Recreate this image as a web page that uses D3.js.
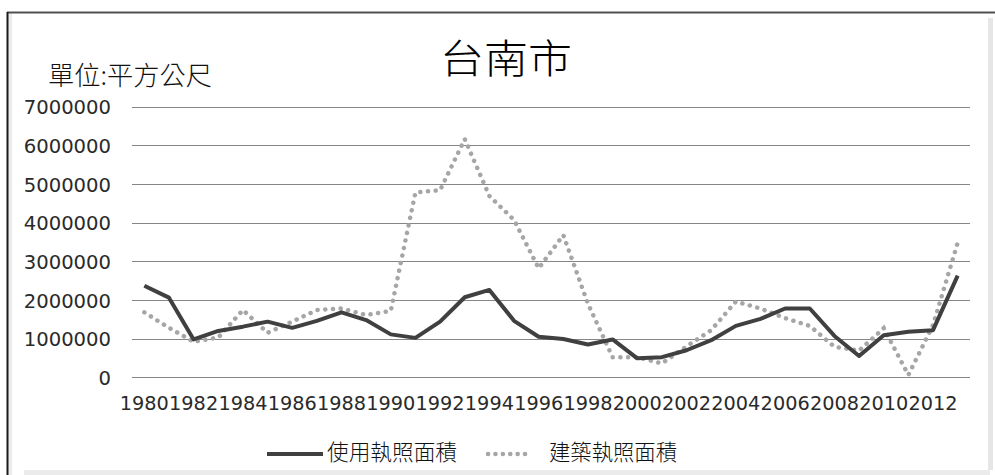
<!DOCTYPE html>
<html>
<head>
<meta charset="utf-8">
<script src="https://cdn.jsdelivr.net/npm/d3@7/dist/d3.min.js"></script>
<style>
  html, body { margin: 0; padding: 0; background: #fff; }
  svg { display: block; }
</style>
</head>
<body>
<script>
// 台南市 使用執照 / 建築執照 面積 (平方公尺), 1980–2013
const years = d3.range(1980, 2014);
const usePermit = [
  2370000, 2060000, 980000, 1200000, 1310000, 1440000, 1280000, 1460000, 1680000, 1480000,
  1110000, 1020000, 1440000, 2070000, 2260000, 1460000, 1050000, 990000, 850000, 980000,
  490000, 520000, 700000, 960000, 1330000, 1510000, 1780000, 1780000, 1070000, 550000,
  1090000, 1180000, 1220000, 2630000
];
const buildPermit = [
  1680000, 1280000, 920000, 1030000, 1740000, 1150000, 1440000, 1740000, 1780000, 1610000,
  1720000, 4780000, 4840000, 6160000, 4690000, 4070000, 2820000, 3680000, 1900000, 520000,
  520000, 360000, 800000, 1220000, 1960000, 1780000, 1530000, 1330000, 790000, 690000,
  1270000, 60000, 1350000, 3480000
];
const yTicks = [0, 1000000, 2000000, 3000000, 4000000, 5000000, 6000000, 7000000];
const xTickYears = years.filter(y => (y - 1980) % 2 === 0 && y <= 2012);
const seriesNames = ["使用執照面積", "建築執照面積"];
const titleText = "台南市";
const unitText = "單位:平方公尺";

const W = 995, H = 475;
const svg = d3.select("body").append("svg").attr("width", W).attr("height", H);

// chart frame
svg.append("rect").attr("x", 8).attr("y", 13).attr("width", W - 8).attr("height", H - 13).attr("fill", "#fff");
svg.append("rect").attr("x", 8).attr("y", 13).attr("width", 4).attr("height", H - 13).attr("fill", "#ececec");
svg.append("rect").attr("x", 988).attr("y", 18).attr("width", 5).attr("height", 452).attr("fill", "#e6e6e6");
svg.append("rect").attr("x", 24).attr("y", 470).attr("width", 966).attr("height", 5).attr("fill", "#ebebeb");
svg.append("line").attr("x1", 7).attr("x2", W).attr("y1", 12.5).attr("y2", 12.5)
  .attr("stroke", "#505050").attr("stroke-width", 2);
svg.append("line").attr("x1", 7.5).attr("x2", 7.5).attr("y1", 12).attr("y2", H)
  .attr("stroke", "#1a1a1a").attr("stroke-width", 2);

// scales
const x = d3.scaleBand().domain(years).range([132, 970]);
const cx = d => x(d) + x.bandwidth() / 2;
const y = d3.scaleLinear().domain([0, 7000000]).range([377.3, 106.7]);

// gridlines
svg.append("g").selectAll("line").data(yTicks).join("line")
  .attr("x1", 132).attr("x2", 970)
  .attr("y1", d => Math.round(y(d)) + 0.5).attr("y2", d => Math.round(y(d)) + 0.5)
  .attr("stroke", "#868686").attr("stroke-width", 1);

// y axis
const yAxis = svg.append("g").attr("transform", "translate(132,0)")
  .call(d3.axisLeft(y).tickValues(yTicks).tickSize(0).tickPadding(21).tickFormat(d3.format("d")));
yAxis.select(".domain").remove();
yAxis.selectAll("text")
  .attr("font-family", "DejaVu Sans").attr("font-size", 19.6).attr("fill", "#2a2a2a")
  .attr("dy", "0.36em");

// x axis
const xAxis = svg.append("g").attr("transform", "translate(0,377)")
  .call(d3.axisBottom(x).tickValues(xTickYears).tickSize(0).tickPadding(0));
xAxis.select(".domain").remove();
xAxis.selectAll("text")
  .attr("font-family", "DejaVu Sans").attr("font-size", 19.3).attr("fill", "#2a2a2a")
  .attr("y", 32.5).attr("dy", 0);

// series
const line = d3.line().x((d, i) => cx(years[i])).y(d => y(d));
svg.append("path").datum(buildPermit).attr("d", line)
  .attr("fill", "none").attr("stroke", "#a6a6a6").attr("stroke-width", 4.5)
  .attr("stroke-linecap", "round").attr("stroke-dasharray", "0.1 7.6");
svg.append("path").datum(usePermit).attr("d", line)
  .attr("fill", "none").attr("stroke", "#404040").attr("stroke-width", 4)
  .attr("stroke-linejoin", "round");

// title and unit
svg.append("text").attr("x", 440).attr("y", 73)
  .attr("font-family", "Noto Sans CJK TC").attr("font-weight", 300)
  .attr("font-size", 40).attr("fill", "#000")
  .attr("textLength", 132).attr("lengthAdjust", "spacingAndGlyphs")
  .text(titleText);
svg.append("text").attr("x", 48).attr("y", 85)
  .attr("font-family", "Noto Sans CJK TC").attr("font-weight", 300)
  .attr("font-size", 26).attr("fill", "#111")
  .attr("textLength", 164).attr("lengthAdjust", "spacingAndGlyphs")
  .text(unitText);

// legend
const legend = svg.append("g");
legend.append("line").attr("x1", 267).attr("x2", 323).attr("y1", 454).attr("y2", 454)
  .attr("stroke", "#404040").attr("stroke-width", 4);
legend.append("text").attr("x", 327).attr("y", 460)
  .attr("font-family", "Noto Sans CJK TC").attr("font-weight", 300)
  .attr("font-size", 22).attr("fill", "#111")
  .attr("textLength", 130).attr("lengthAdjust", "spacingAndGlyphs")
  .text(seriesNames[0]);
legend.append("line").attr("x1", 488).attr("x2", 532).attr("y1", 454).attr("y2", 454)
  .attr("stroke", "#a6a6a6").attr("stroke-width", 4.5)
  .attr("stroke-linecap", "round").attr("stroke-dasharray", "0.1 7.3");
legend.append("text").attr("x", 549).attr("y", 460)
  .attr("font-family", "Noto Sans CJK TC").attr("font-weight", 300)
  .attr("font-size", 22).attr("fill", "#111")
  .attr("textLength", 128).attr("lengthAdjust", "spacingAndGlyphs")
  .text(seriesNames[1]);
</script>
</body>
</html>
